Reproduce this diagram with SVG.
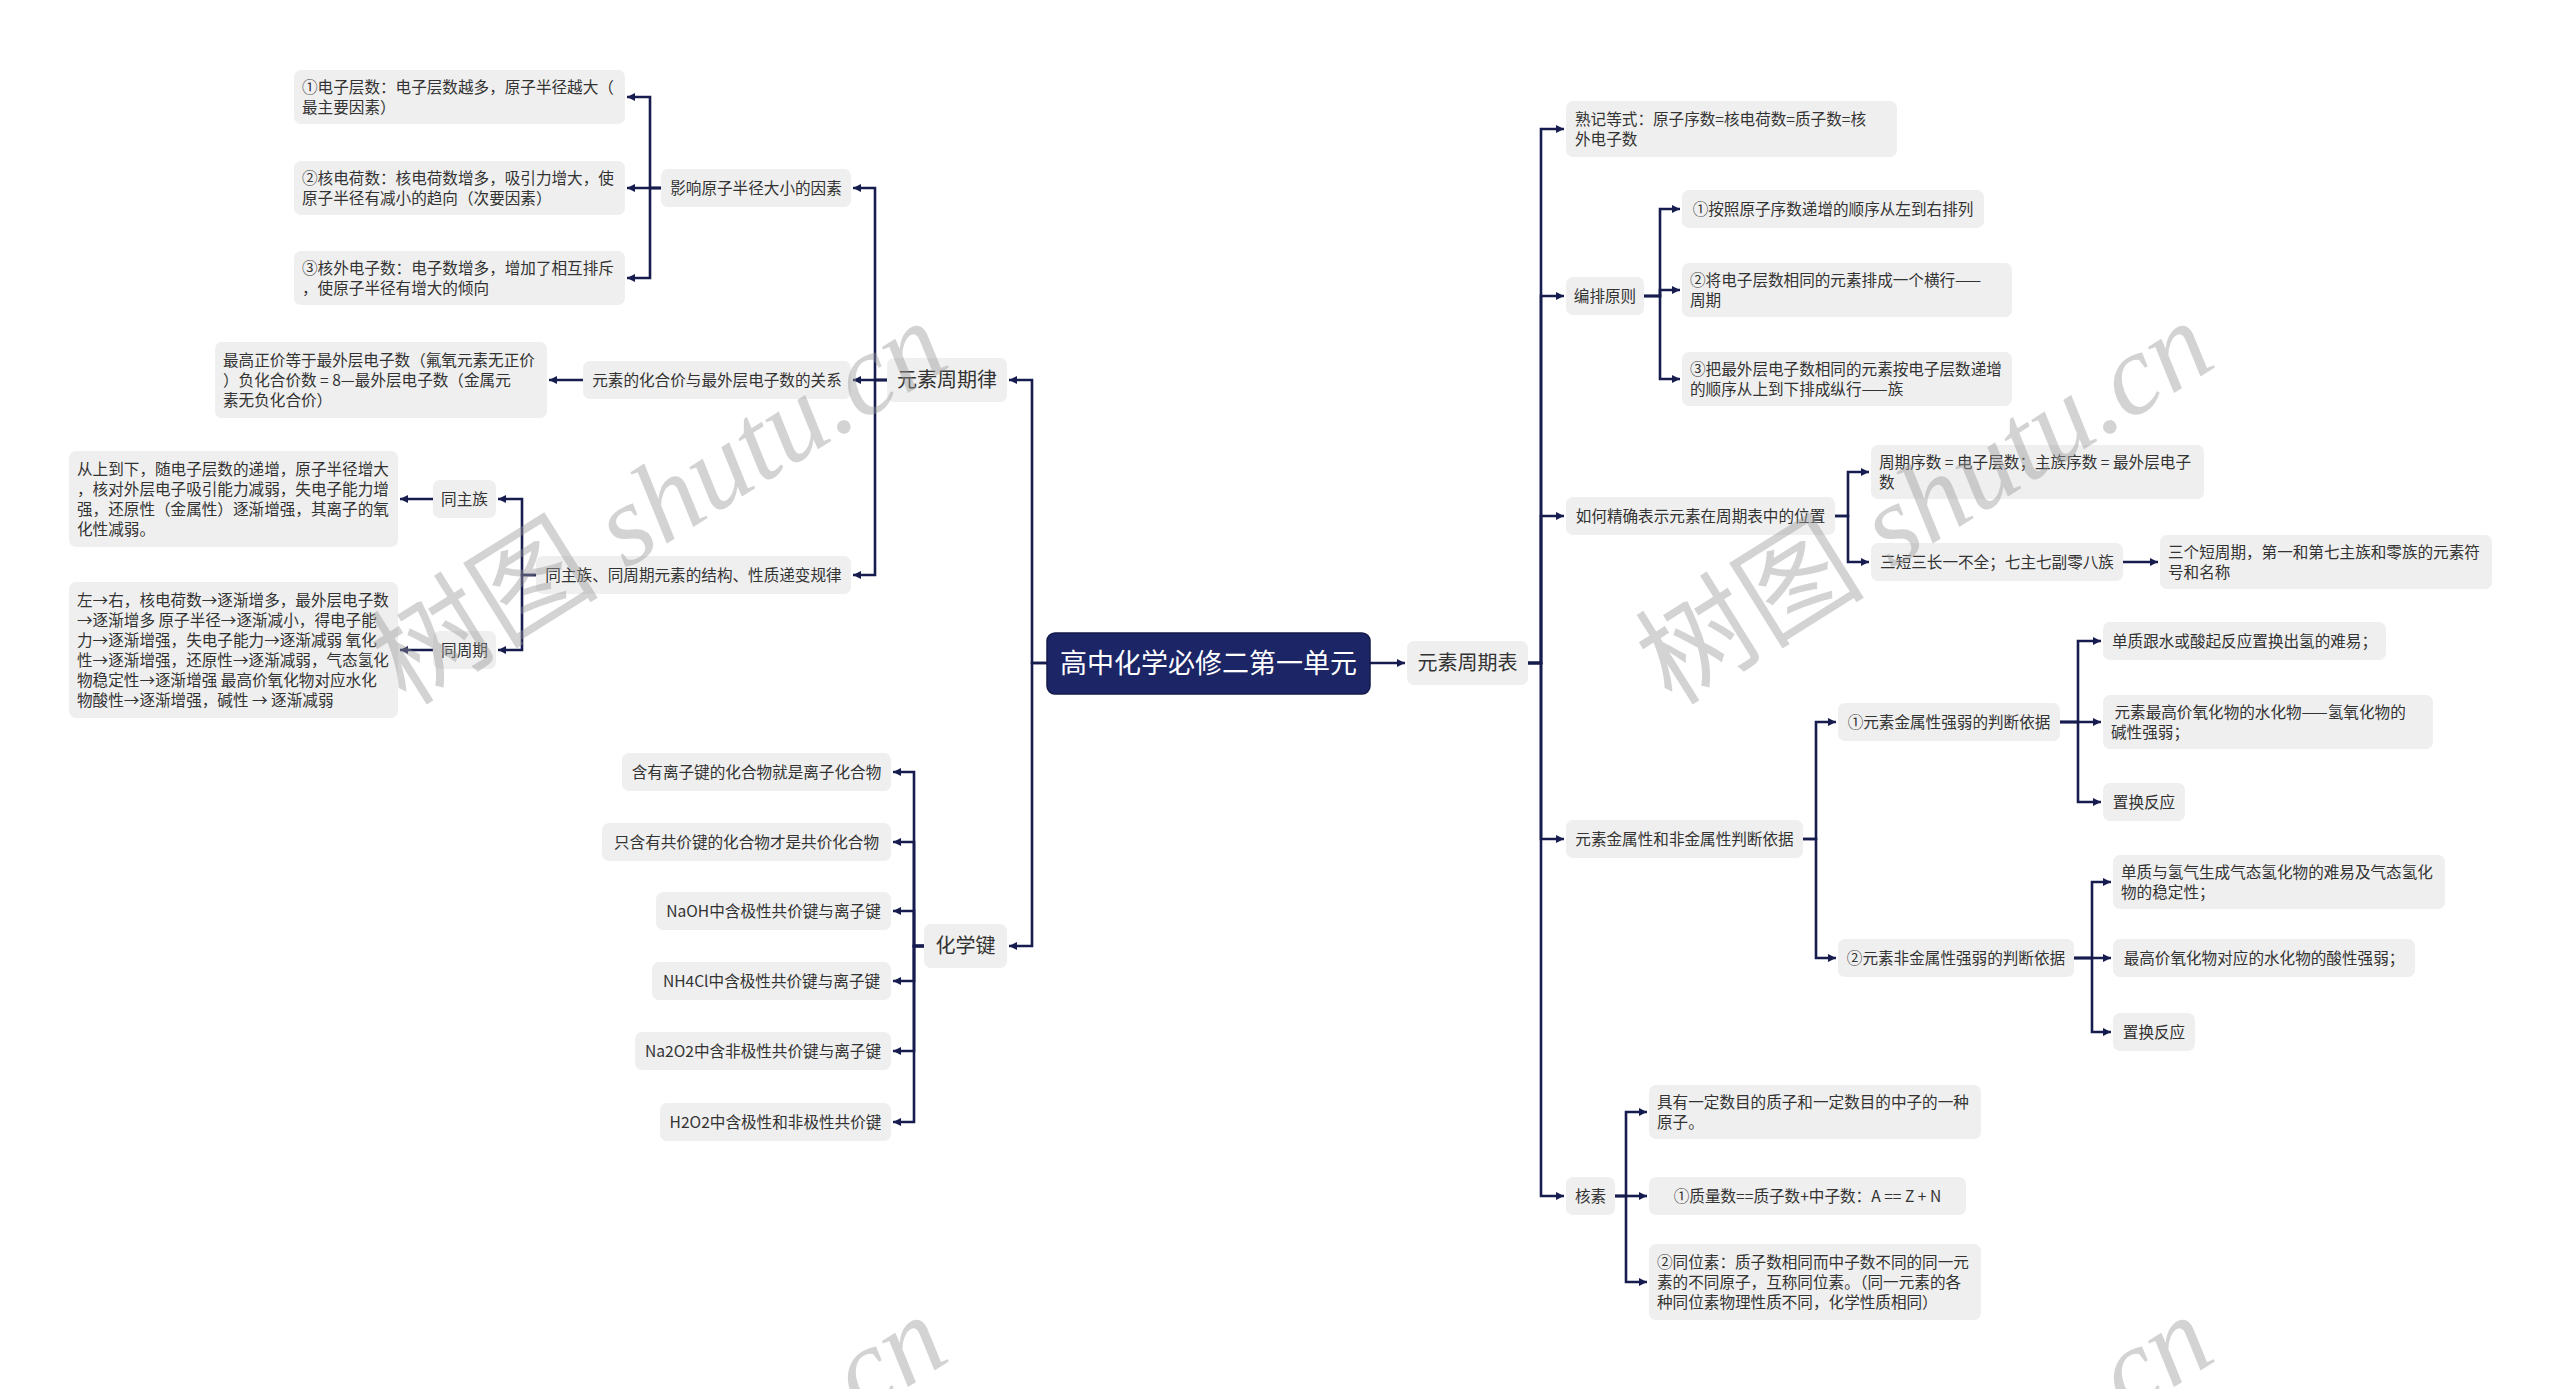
<svg xmlns="http://www.w3.org/2000/svg" width="2560" height="1389" viewBox="0 0 2560 1389">
<defs>
<style>
.bx{fill:#efefef}
.t{font-family:"Noto Sans CJK SC","Liberation Sans",sans-serif;font-size:15.6px;fill:#333}
.m{text-anchor:middle}
.l2{font-size:20px}
.c{fill:none;stroke:#171c4f;stroke-width:2.6}
.wm{font-size:115px;fill:#999;opacity:0.42}
</style>
<marker id="ar" markerUnits="userSpaceOnUse" markerWidth="9" markerHeight="9" refX="8" refY="4.5" orient="auto"><path d="M0,0.5 L8,4.5 L0,8.5 z" fill="#171c4f"/></marker>
</defs>
<rect width="2560" height="1389" fill="#ffffff"/>

<g id="connectors">
<path class="c" marker-end="url(#ar)" d="M1370,663 H1405"/>
<path class="c" marker-end="url(#ar)" d="M1528,663 H1541 V129 H1564"/>
<path class="c" marker-end="url(#ar)" d="M1528,663 H1541 V296 H1564"/>
<path class="c" marker-end="url(#ar)" d="M1528,663 H1541 V516 H1564"/>
<path class="c" marker-end="url(#ar)" d="M1528,663 H1541 V839 H1564"/>
<path class="c" marker-end="url(#ar)" d="M1528,663 H1541 V1196 H1564"/>
<path class="c" marker-end="url(#ar)" d="M1644,296 H1660 V209 H1680"/>
<path class="c" marker-end="url(#ar)" d="M1644,296 H1660 V290 H1680"/>
<path class="c" marker-end="url(#ar)" d="M1644,296 H1660 V379 H1680"/>
<path class="c" marker-end="url(#ar)" d="M1835,516 H1848 V472 H1869"/>
<path class="c" marker-end="url(#ar)" d="M1835,516 H1848 V562 H1869"/>
<path class="c" marker-end="url(#ar)" d="M2123,562 H2158"/>
<path class="c" marker-end="url(#ar)" d="M1802,839 H1816 V722 H1836"/>
<path class="c" marker-end="url(#ar)" d="M1802,839 H1816 V958 H1836"/>
<path class="c" marker-end="url(#ar)" d="M2060,722 H2078 V641 H2101"/>
<path class="c" marker-end="url(#ar)" d="M2060,722 H2078 V722 H2101"/>
<path class="c" marker-end="url(#ar)" d="M2060,722 H2078 V802 H2101"/>
<path class="c" marker-end="url(#ar)" d="M2074,958 H2092 V882 H2111"/>
<path class="c" marker-end="url(#ar)" d="M2074,958 H2092 V958 H2111"/>
<path class="c" marker-end="url(#ar)" d="M2074,958 H2092 V1032 H2111"/>
<path class="c" marker-end="url(#ar)" d="M1615,1196 H1626 V1112 H1647"/>
<path class="c" marker-end="url(#ar)" d="M1615,1196 H1626 V1196 H1647"/>
<path class="c" marker-end="url(#ar)" d="M1615,1196 H1626 V1282 H1647"/>
<path class="c" marker-end="url(#ar)" d="M1047,663 H1032 V380 H1009"/>
<path class="c" marker-end="url(#ar)" d="M1047,663 H1032 V946 H1009"/>
<path class="c" marker-end="url(#ar)" d="M887,380 H875 V188 H853"/>
<path class="c" marker-end="url(#ar)" d="M887,380 H875 V380 H853"/>
<path class="c" marker-end="url(#ar)" d="M887,380 H875 V575 H853"/>
<path class="c" marker-end="url(#ar)" d="M661,188 H650 V97 H627"/>
<path class="c" marker-end="url(#ar)" d="M661,188 H650 V188 H627"/>
<path class="c" marker-end="url(#ar)" d="M661,188 H650 V278 H627"/>
<path class="c" marker-end="url(#ar)" d="M583,380 H549"/>
<path class="c" marker-end="url(#ar)" d="M536,575 H522 V499 H498"/>
<path class="c" marker-end="url(#ar)" d="M536,575 H522 V650 H498"/>
<path class="c" marker-end="url(#ar)" d="M433,499 H400"/>
<path class="c" marker-end="url(#ar)" d="M433,650 H400"/>
<path class="c" marker-end="url(#ar)" d="M924,946 H914 V772 H893"/>
<path class="c" marker-end="url(#ar)" d="M924,946 H914 V842 H893"/>
<path class="c" marker-end="url(#ar)" d="M924,946 H914 V911 H893"/>
<path class="c" marker-end="url(#ar)" d="M924,946 H914 V981 H893"/>
<path class="c" marker-end="url(#ar)" d="M924,946 H914 V1051 H893"/>
<path class="c" marker-end="url(#ar)" d="M924,946 H914 V1122 H893"/>
</g>

<g id="root"><rect x="1047" y="633" width="323" height="61" rx="8" fill="#1c2566" stroke="#141a4a" stroke-width="1.5"/><text class="t m" x="1208.5" y="673" style="font-size:27px;fill:#ffffff">高中化学必修二第一单元</text></g>
<g id="n_zqb"><rect class="bx" x="1407" y="641" width="121" height="44" rx="7"/><text class="t m l2" x="1467.5" y="670">元素周期表</text></g>

<g id="n_shuji"><rect class="bx" x="1566" y="101" width="331" height="56" rx="7"/><text class="t" x="1575" y="124.5">熟记等式：原子序数=核电荷数=质子数=核</text><text class="t" x="1575" y="144.5">外电子数</text></g>
<g id="n_bianpai"><rect class="bx" x="1566" y="277" width="78" height="38" rx="7"/><text class="t m" x="1605" y="301.5">编排原则</text></g>
<g id="n_bp1"><rect class="bx" x="1682" y="190" width="302" height="38" rx="7"/><text class="t m" x="1833" y="214.5">①按照原子序数递增的顺序从左到右排列</text></g>
<g id="n_bp2"><rect class="bx" x="1682" y="263" width="330" height="54" rx="7"/><text class="t" x="1690" y="285.5">②将电子层数相同的元素排成一个横行——</text><text class="t" x="1690" y="305.5">周期</text></g>
<g id="n_bp3"><rect class="bx" x="1682" y="352" width="330" height="54" rx="7"/><text class="t" x="1690" y="374.5">③把最外层电子数相同的元素按电子层数递增</text><text class="t" x="1690" y="394.5">的顺序从上到下排成纵行——族</text></g>
<g id="n_ruhe"><rect class="bx" x="1566" y="497" width="269" height="38" rx="7"/><text class="t m" x="1700.5" y="521.5">如何精确表示元素在周期表中的位置</text></g>
<g id="n_zhouqi"><rect class="bx" x="1871" y="445" width="333" height="54" rx="7"/><text class="t" x="1879" y="467.5">周期序数 = 电子层数；主族序数 = 最外层电子</text><text class="t" x="1879" y="487.5">数</text></g>
<g id="n_sanduan"><rect class="bx" x="1871" y="543" width="252" height="38" rx="7"/><text class="t m" x="1997" y="567.5">三短三长一不全；七主七副零八族</text></g>
<g id="n_sange"><rect class="bx" x="2160" y="535" width="332" height="54" rx="7"/><text class="t" x="2168" y="557.5">三个短周期，第一和第七主族和零族的元素符</text><text class="t" x="2168" y="577.5">号和名称</text></g>
<g id="n_jinshu"><rect class="bx" x="1566" y="820" width="237" height="38" rx="7"/><text class="t m" x="1684.5" y="844.5">元素金属性和非金属性判断依据</text></g>
<g id="n_j1"><rect class="bx" x="1838" y="703" width="222" height="38" rx="7"/><text class="t m" x="1949" y="727.5">①元素金属性强弱的判断依据</text></g>
<g id="n_j2"><rect class="bx" x="1838" y="939" width="236" height="38" rx="7"/><text class="t m" x="1956" y="963.5">②元素非金属性强弱的判断依据</text></g>
<g id="n_j1a"><rect class="bx" x="2103" y="622" width="283" height="38" rx="7"/><text class="t m" x="2244.5" y="646.5">单质跟水或酸起反应置换出氢的难易；</text></g>
<g id="n_j1b"><rect class="bx" x="2103" y="695" width="330" height="54" rx="7"/><text class="t" x="2111" y="717.5" xml:space="preserve"> 元素最高价氧化物的水化物——氢氧化物的</text><text class="t" x="2111" y="737.5">碱性强弱；</text></g>
<g id="n_j1c"><rect class="bx" x="2103" y="783" width="82" height="38" rx="7"/><text class="t m" x="2144" y="807.5">置换反应</text></g>
<g id="n_j2a"><rect class="bx" x="2113" y="855" width="332" height="54" rx="7"/><text class="t" x="2121" y="877.5">单质与氢气生成气态氢化物的难易及气态氢化</text><text class="t" x="2121" y="897.5">物的稳定性；</text></g>
<g id="n_j2b"><rect class="bx" x="2113" y="939" width="302" height="38" rx="7"/><text class="t m" x="2264" y="963.5">最高价氧化物对应的水化物的酸性强弱；</text></g>
<g id="n_j2c"><rect class="bx" x="2113" y="1013" width="82" height="38" rx="7"/><text class="t m" x="2154" y="1037.5">置换反应</text></g>
<g id="n_hesu"><rect class="bx" x="1566" y="1177" width="49" height="38" rx="7"/><text class="t m" x="1590.5" y="1201.5">核素</text></g>
<g id="n_h1"><rect class="bx" x="1649" y="1085" width="332" height="54" rx="7"/><text class="t" x="1657" y="1107.5">具有一定数目的质子和一定数目的中子的一种</text><text class="t" x="1657" y="1127.5">原子。</text></g>
<g id="n_h2"><rect class="bx" x="1649" y="1177" width="317" height="38" rx="7"/><text class="t m" x="1807.5" y="1201.5">①质量数==质子数+中子数：A == Z + N</text></g>
<g id="n_h3"><rect class="bx" x="1649" y="1244" width="332" height="76" rx="7"/><text class="t" x="1657" y="1267.5">②同位素：质子数相同而中子数不同的同一元</text><text class="t" x="1657" y="1287.5">素的不同原子，互称同位素。（同一元素的各</text><text class="t" x="1657" y="1307.5">种同位素物理性质不同，化学性质相同）</text></g>

<g id="n_zqlv"><rect class="bx" x="887" y="358" width="120" height="44" rx="7"/><text class="t m l2" x="947" y="387">元素周期律</text></g>
<g id="n_hxj"><rect class="bx" x="924" y="924" width="83" height="44" rx="7"/><text class="t m l2" x="965.5" y="953">化学键</text></g>
<g id="n_yx"><rect class="bx" x="661" y="169" width="190" height="38" rx="7"/><text class="t m" x="756" y="193.5">影响原子半径大小的因素</text></g>
<g id="n_hjj"><rect class="bx" x="583" y="361" width="268" height="38" rx="7"/><text class="t m" x="717" y="385.5">元素的化合价与最外层电子数的关系</text></g>
<g id="n_tz"><rect class="bx" x="536" y="556" width="315" height="38" rx="7"/><text class="t m" x="693.5" y="580.5">同主族、同周期元素的结构、性质递变规律</text></g>
<g id="n_y1"><rect class="bx" x="294" y="70" width="331" height="54" rx="7"/><text class="t" x="302" y="92.5">①电子层数：电子层数越多，原子半径越大（</text><text class="t" x="302" y="112.5">最主要因素）</text></g>
<g id="n_y2"><rect class="bx" x="294" y="161" width="331" height="54" rx="7"/><text class="t" x="302" y="183.5">②核电荷数：核电荷数增多，吸引力增大，使</text><text class="t" x="302" y="203.5">原子半径有减小的趋向（次要因素）</text></g>
<g id="n_y3"><rect class="bx" x="294" y="251" width="331" height="54" rx="7"/><text class="t" x="302" y="273.5">③核外电子数：电子数增多，增加了相互排斥</text><text class="t" x="302" y="293.5">，使原子半径有增大的倾向</text></g>
<g id="n_zgzj"><rect class="bx" x="215" y="342" width="332" height="76" rx="7"/><text class="t" x="223" y="365.5">最高正价等于最外层电子数（氟氧元素无正价</text><text class="t" x="223" y="385.5">）负化合价数 = 8—最外层电子数（金属元</text><text class="t" x="223" y="405.5">素无负化合价）</text></g>
<g id="n_tzz"><rect class="bx" x="433" y="480" width="63" height="38" rx="7"/><text class="t m" x="464.5" y="504.5">同主族</text></g>
<g id="n_tzq"><rect class="bx" x="433" y="631" width="63" height="38" rx="7"/><text class="t m" x="464.5" y="655.5">同周期</text></g>
<g id="n_csdx"><rect class="bx" x="69" y="451" width="329" height="96" rx="7"/><text class="t" x="77" y="474.5">从上到下，随电子层数的递增，原子半径增大</text><text class="t" x="77" y="494.5">，核对外层电子吸引能力减弱，失电子能力增</text><text class="t" x="77" y="514.5">强，还原性（金属性）逐渐增强，其离子的氧</text><text class="t" x="77" y="534.5">化性减弱。</text></g>
<g id="n_zdy"><rect class="bx" x="69" y="582" width="329" height="136" rx="7"/><text class="t" x="77" y="605.5">左→右，核电荷数→逐渐增多，最外层电子数</text><text class="t" x="77" y="625.5">→逐渐增多 原子半径→逐渐减小，得电子能</text><text class="t" x="77" y="645.5">力→逐渐增强，失电子能力→逐渐减弱 氧化</text><text class="t" x="77" y="665.5">性→逐渐增强，还原性→逐渐减弱，气态氢化</text><text class="t" x="77" y="685.5">物稳定性→逐渐增强 最高价氧化物对应水化</text><text class="t" x="77" y="705.5">物酸性→逐渐增强，碱性 → 逐渐减弱</text></g>
<g id="n_k1"><rect class="bx" x="622" y="753" width="269" height="38" rx="7"/><text class="t m" x="756.5" y="777.5">含有离子键的化合物就是离子化合物</text></g>
<g id="n_k2"><rect class="bx" x="602" y="823" width="289" height="38" rx="7"/><text class="t m" x="746.5" y="847.5">只含有共价键的化合物才是共价化合物</text></g>
<g id="n_k3"><rect class="bx" x="656" y="892" width="235" height="38" rx="7"/><text class="t m" x="773.5" y="916.5">NaOH中含极性共价键与离子键</text></g>
<g id="n_k4"><rect class="bx" x="652" y="962" width="239" height="38" rx="7"/><text class="t m" x="771.5" y="986.5">NH4Cl中含极性共价键与离子键</text></g>
<g id="n_k5"><rect class="bx" x="635" y="1032" width="256" height="38" rx="7"/><text class="t m" x="763" y="1056.5">Na2O2中含非极性共价键与离子键</text></g>
<g id="n_k6"><rect class="bx" x="660" y="1103" width="231" height="38" rx="7"/><text class="t m" x="775.5" y="1127.5">H2O2中含极性和非极性共价键</text></g>

<g id="watermarks">
<text class="wm" transform="translate(661,506) rotate(-32)" text-anchor="middle" y="35"><tspan font-family="Noto Sans CJK SC, sans-serif">树图</tspan><tspan font-family="Liberation Serif, serif" font-style="italic"> shutu.cn</tspan></text>
<text class="wm" transform="translate(1927,506) rotate(-32)" text-anchor="middle" y="35"><tspan font-family="Noto Sans CJK SC, sans-serif">树图</tspan><tspan font-family="Liberation Serif, serif" font-style="italic"> shutu.cn</tspan></text>
<text class="wm" transform="translate(661,1500) rotate(-32)" text-anchor="middle" y="35"><tspan font-family="Noto Sans CJK SC, sans-serif">树图</tspan><tspan font-family="Liberation Serif, serif" font-style="italic"> shutu.cn</tspan></text>
<text class="wm" transform="translate(1927,1500) rotate(-32)" text-anchor="middle" y="35"><tspan font-family="Noto Sans CJK SC, sans-serif">树图</tspan><tspan font-family="Liberation Serif, serif" font-style="italic"> shutu.cn</tspan></text>
</g>
</svg>
